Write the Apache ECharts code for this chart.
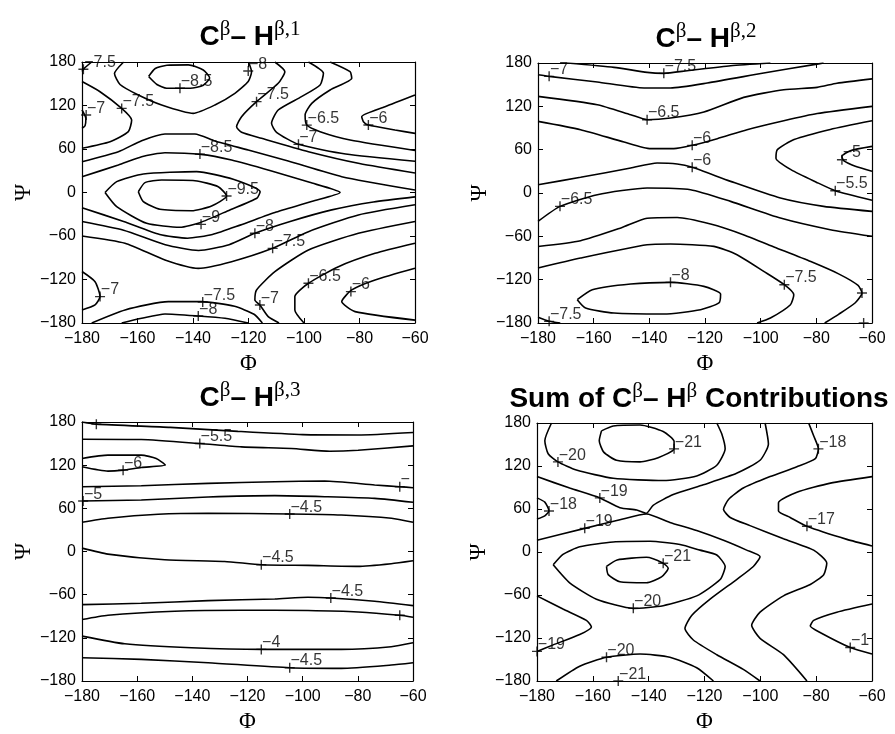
<!DOCTYPE html>
<html>
<head>
<meta charset="utf-8">
<script src="https://cdn.jsdelivr.net/npm/echarts@6/dist/echarts.min.js"></script>
<style>
  html, body { margin: 0; background: #fff; }
  #chart { width: 895px; height: 734px; }
</style>
</head>
<body>
<div id="chart"></div>
<script>
// tick values shared by all four panels
const phiTicks = { min: -180, max: -60, step: 20 };
const psiTicks = { min: -180, max: 180, step: 60 };

// contour lines: [level, [[phi, psi], ...]]
const p1Lines = [
  [-8.5, [[-156,160],[-153.6,171],[-149.4,175.5],[-141.7,176],[-136.3,169],[-134,158],[-136.3,148],[-141,143.7],[-149.5,143.7],[-153,149],[-156,160]]],
  [-8, [[-165,180],[-168.3,164],[-166.3,149],[-159.7,134.5],[-151.3,120.7],[-139.9,109.2],[-132.1,120.7],[-124.9,136.8],[-120.1,153],[-118.9,166.7],[-120,180]]],
  [-7.5, [[-180,167],[-179,172],[-176.5,180]]],
  [-7.5, [[-180,153],[-173.5,139],[-165.7,116],[-162.1,100],[-163.3,84],[-169.9,70],[-180,61]]],
  [-7, [[-180,114],[-178.6,102],[-178.9,92],[-180,88.5]]],
  [-8, [[-180,42.5],[-166.9,56.3],[-158.5,71.5],[-150.1,80.7],[-139.3,80.7],[-132.1,71],[-120.1,58.6],[-105.7,43.4],[-86.4,21.8],[-60,3.4]]],
  [-8.5, [[-180,21.8],[-166.9,37.9],[-158.5,49.4],[-150.1,54.9],[-137.1,52.6],[-126.1,44.8],[-112,30],[-98,14],[-87,0],[-97,-12],[-110,-27],[-123,-45],[-133,-58],[-142,-63],[-152,-58],[-165,-40],[-180,-21]]],
  [-9.5, [[-159.7,1],[-157.3,13.6],[-151.3,17.2],[-139.3,16.3],[-130.9,8],[-127.9,-4.8],[-133.3,-18.6],[-140.5,-25.1],[-151.9,-23.2],[-157.9,-12.7],[-159.7,1]]],
  [-9, [[-171.7,0],[-167.5,15],[-157.9,25.6],[-138.7,28.8],[-125.5,18.2],[-115.8,1.2],[-117,-8],[-126.7,-24],[-137.5,-41.6],[-144.7,-48],[-156.7,-42.5],[-167.5,-19.5],[-171.7,0]]],
  [-8, [[-180,-40],[-165,-52],[-150,-72],[-138,-80],[-127,-72],[-117.7,-56.3],[-105,-40],[-90,-24],[-75,-13],[-60,-6]]],
  [-7.5, [[-180,-60],[-164.5,-70],[-150.1,-93],[-138.1,-104.6],[-126.1,-95.4],[-111.3,-77],[-98.4,-54],[-80.4,-31],[-60,-17]]],
  [-7, [[-180,-109],[-175.3,-123],[-173.5,-143.6],[-175.3,-155],[-180,-162]]],
  [-7.5, [[-176.5,-180],[-164.5,-162],[-148.9,-150.5],[-136.9,-150.5],[-125,-157],[-118,-168],[-115,-180]]],
  [-8, [[-165.7,-180],[-158.5,-173.5],[-150.1,-167.5],[-138.1,-170.3],[-128.5,-173.5],[-120.1,-180]]],
  [-7.5, [[-110.5,180],[-106.9,166.7],[-109.3,150.6],[-117.1,125.3],[-122.5,104.6],[-124.3,90.8],[-122.5,83],[-115.3,74.7],[-98.4,56.3],[-80,40],[-60,27]]],
  [-7, [[-98.4,180],[-93,164.4],[-94.2,148.3],[-100.9,132.2],[-109.3,113.8],[-111.7,95.4],[-109.9,83],[-102,66.4],[-85,53],[-60,43]]],
  [-6.5, [[-90.6,180],[-83.4,166.6],[-82.8,157.5],[-90.6,141.4],[-97.2,123],[-99.6,107],[-99,93],[-94.2,83.9],[-83.4,72.4],[-60,58]]],
  [-6, [[-60,134.5],[-70.8,118.4],[-79.2,104.6],[-78.6,97.7],[-76.8,93.1],[-67.2,86.2],[-60,81.6]]],
  [-7, [[-60,-40],[-80.4,-56.3],[-98.4,-79.3],[-110.5,-109.2],[-117.1,-134.4],[-117.7,-148.2],[-115.9,-155.1],[-112.9,-171.2],[-109,-180]]],
  [-6.5, [[-60,-70],[-74.4,-83.9],[-87.6,-102.3],[-98.4,-125.2],[-103.3,-143.6],[-103.3,-162],[-100,-180]]],
  [-6, [[-60,-104.5],[-74.4,-120.6],[-82.8,-134.4],[-86.4,-150.5],[-81.6,-164.3],[-60,-176]]]
];
const p1Labels = [
  [-144.7,143.7,'\u22128.5'], [-120.1,167.6,'\u22128'], [-179.5,170,'\u22127.5'], [-165.7,116,'\u22127.5'],
  [-178.5,107,'\u22127'], [-117.1,125.3,'\u22127.5'], [-102,66.4,'\u22127'], [-99,93,'\u22126.5'],
  [-76.8,93.1,'\u22126'], [-137.5,53,'\u22128.5'], [-127.9,-4.8,'\u22129.5'], [-137.1,-43.9,'\u22129'],
  [-117.7,-56.3,'\u22128'], [-111.3,-77,'\u22127.5'], [-98.4,-125.2,'\u22126.5'], [-83.1,-136.7,'\u22126'],
  [-173.5,-143.6,'\u22127'], [-115.9,-155.1,'\u22127'], [-136.5,-151,'\u22127.5'], [-138.1,-170.3,'\u22128']
];

const p2Lines = [
  [-7.5, [[-169.5,180],[-152.7,174],[-140.8,167],[-134.8,165.7],[-126.4,169.3],[-110.8,176.3],[-96.5,180]]],
  [-7, [[-180,163.8],[-176,161.5],[-158.7,153.7],[-141.9,145.4],[-132.4,145.4],[-119.2,152.3],[-98.9,166.1],[-80.9,177.7],[-77.4,180]]],
  [-6.5, [[-180,133.8],[-158.7,122.3],[-146.7,108.4],[-140.8,101.5],[-132.4,103.8],[-120.4,112.1],[-106.1,132.4],[-91.7,143],[-79.7,146.3],[-72.6,152],[-60,158]]],
  [-6, [[-180,99.2],[-164.7,87.7],[-149.1,70.6],[-139.5,61.4],[-131.2,61.4],[-124.6,66],[-115.6,75.2],[-104.9,87.7],[-91.7,100.1],[-79.7,110],[-60,120]]],
  [-5.5, [[-60,100],[-75,88],[-88,74],[-94,60],[-94.5,48],[-89,32],[-80,15],[-73.2,3.2],[-60,-10]]],
  [-5, [[-60,64.6],[-67.8,58.6],[-70.8,50.7],[-70.2,44.7],[-66,36.9],[-60,30]]],
  [-6, [[-180,11.5],[-164.7,21.7],[-146.7,34.6],[-137.2,41.5],[-130,40.1],[-124.6,35.5],[-110.8,16.1],[-92.9,-7],[-77.4,-18.5],[-60,-25.4]]],
  [-6.5, [[-180,-39.3],[-172.1,-18.5],[-158.7,-2.3],[-140.8,6.9],[-125.2,4.6],[-110.8,-11.6],[-92.9,-34.7],[-75,-50.8],[-60,-60]]],
  [-7, [[-180,-74],[-164.7,-66],[-150,-48],[-140.8,-35],[-130,-34],[-118,-43],[-106,-58],[-95,-75],[-82,-95],[-72,-112],[-65,-128],[-63.6,-138.5],[-66,-152],[-72,-168],[-77,-180]]],
  [-7.5, [[-180,-103.9],[-164.7,-90],[-140.8,-71.6],[-132.4,-70.7],[-116.8,-73.9],[-108.5,-85.4],[-98.9,-108.5],[-91.5,-127],[-88.1,-140.8],[-89.3,-154.7],[-96.5,-173.1],[-101.3,-180]]],
  [-7.5, [[-180,-172],[-176,-177.7],[-172,-180]]],
  [-8, [[-165.9,-147.7],[-160.5,-133.9],[-146.7,-126],[-132.4,-123.7],[-120.4,-129.3],[-114.4,-139.9],[-115,-152.3],[-121.6,-161.6],[-134.8,-167.6],[-152.7,-166.2],[-162.9,-159.3],[-165.9,-147.7]]]
];
const p2Labels = [
  [-176,161.5,'\u22127'], [-134.8,165.7,'\u22127.5'], [-140.8,101.5,'\u22126.5'], [-124.6,66,'\u22126'],
  [-124.6,35.5,'\u22126'], [-70.8,46.1,'\u22125'], [-73.2,3.2,'\u22125.5'], [-172.1,-18.5,'\u22126.5'],
  [-132.4,-123.7,'\u22128'], [-91.5,-127,'\u22127.5'], [-176,-177.7,'\u22127.5'], [-63.6,-138.5,''], [-63,-180,'']
];

const p3Lines = [
  [-6, [[-180,180],[-174.8,177],[-148,172.5],[-123.5,167],[-100,162.5],[-80,162],[-60,165.5]]],
  [-5.5, [[-180,156.1],[-158.5,155.6],[-137.3,150.1],[-122.2,145.4],[-104.1,143.1],[-90.2,139.4],[-79.9,140.8],[-60,146.8]]],
  [-6, [[-180,129.3],[-170.6,133.9],[-158.5,133.9],[-153.1,129.3],[-149.8,120.1],[-158.5,116.8],[-165.1,113.1],[-170.6,111.7],[-180,117.7]]],
  [-5, [[-180,90.1],[-158.5,91.4],[-134.3,94.7],[-110.1,97],[-92,97.9],[-73.9,92.4],[-64.8,90.1],[-60,88.7]]],
  [-5, [[-180,70.2],[-158.5,71.6],[-134.3,75.7],[-110.1,77.6],[-92,76.2],[-73.9,73.9],[-60,68.4]]],
  [-4.5, [[-180,40.7],[-170.6,46.2],[-152.4,51.7],[-134.3,53.1],[-104.7,52.2],[-86,50.8],[-67.8,46.2],[-60,40.7]]],
  [-4.5, [[-180,4.7],[-170.6,-3.6],[-150,-11.5],[-128.3,-13.8],[-115,-18.4],[-98.1,-19.3],[-80,-20.7],[-67.9,-17],[-60,-12.9]]],
  [-4.5, [[-180,-73.8],[-158.5,-72],[-134.3,-68.3],[-110.1,-66],[-98.1,-63.6],[-89.8,-64.6],[-73.9,-69.2],[-60,-75.2]]],
  [-4, [[-180,-94.6],[-170.6,-88.6],[-146.4,-83],[-122.2,-81.6],[-98.1,-82.1],[-79.9,-84],[-64.8,-88.6],[-60,-91.3]]],
  [-4, [[-180,-117.6],[-164.5,-128.3],[-140.3,-133.8],[-115,-136.1],[-86,-136.1],[-67.9,-132.4],[-60,-126.9]]],
  [-4.5, [[-180,-147.7],[-158.5,-150],[-134.3,-154.6],[-104.7,-161.5],[-86,-162.4],[-67.9,-157.8],[-60,-154.6]]]
];
const p3Labels = [
  [-174.8,177,''], [-137.3,150.1,'\u22125.5'], [-165.1,113.1,'\u22126'], [-64.8,90.1,'\u2212'],
  [-179.6,70.2,'\u22125'], [-104.7,52.2,'\u22124.5'], [-115,-18.4,'\u22124.5'], [-89.8,-64.6,'\u22124.5'],
  [-64.8,-88.6,''], [-115,-136.1,'\u22124'], [-104.7,-161.5,'\u22124.5']
];

const p4Lines = [
  [-20, [[-174.8,180],[-177.2,155.3],[-176,137.1],[-172.5,125.7],[-165.9,114.3],[-152.7,102.9],[-134.8,99.7],[-122.8,106.1],[-115.6,121.1],[-112.6,143.9],[-113.8,164.5],[-115.6,180]]],
  [-21, [[-156.9,169],[-152.7,175.8],[-143.1,177.2],[-134.8,168.1],[-130.9,154.4],[-130.9,143.9],[-136.6,131.6],[-143.1,125.7],[-151.5,128],[-156.1,139.4],[-157.7,155.3],[-156.9,169]]],
  [-19, [[-180,105.2],[-168.3,89.2],[-157.5,75.5],[-150.3,61.9],[-144.3,58.7],[-140.8,54.1],[-138.4,65.1],[-131.2,80.1],[-120.4,93.8],[-108.5,109.8],[-100.1,128],[-97.1,150.8],[-98.3,180]]],
  [-19, [[-180,16.3],[-162.9,33],[-150.3,45],[-140.8,53],[-132.4,41.3],[-122.8,29.9],[-113.2,16.3],[-104.9,2.6],[-100.1,-6.5],[-102.5,-20.2],[-108.5,-38.4],[-118,-65.8],[-124.6,-88.6],[-127,-106.8],[-124,-122.8],[-115.6,-143.3],[-106.1,-163.8],[-100.1,-180]]],
  [-18, [[-180,75.5],[-177.2,69.6],[-175.7,57.3],[-177.2,50.5],[-180,45.9]]],
  [-18, [[-82.7,180],[-80.9,162.2],[-79.2,143.9],[-80.3,130.2],[-86.9,118.9],[-96.5,105.2],[-106.1,89.2],[-111.4,73.3],[-113.2,59.6],[-110.8,48.2],[-103.7,36.8],[-91.7,18.5],[-80.9,2.6],[-76.2,-15.6],[-77.3,-31.6],[-82.1,-45.3],[-91.7,-61.2],[-100.1,-84],[-103.1,-102.3],[-100.1,-120.5],[-91.7,-143.3],[-83.3,-180]]],
  [-17, [[-60,105.2],[-74.9,96.1],[-86.9,83.3],[-93.5,68.7],[-93.5,57.3],[-89.3,48.2],[-83.3,35.9],[-69,17.6],[-60,8.5]]],
  [-21, [[-155.1,-20.2],[-151.3,-11.1],[-140.8,-7.4],[-134.8,-15.6],[-133,-22.5],[-135.4,-34.8],[-140.8,-43],[-150.3,-41.6],[-154.5,-31.6],[-155.1,-20.2]]],
  [-20, [[-174.2,-17.9],[-170.7,-3.3],[-164.7,7.2],[-152.7,14],[-139.5,14.9],[-128.8,10.4],[-121.6,2.6],[-115.6,-4.2],[-112.6,-20.2],[-114.4,-38.4],[-122.8,-61.2],[-134.8,-74.9],[-145.5,-78.6],[-158.7,-65.8],[-168.3,-43],[-174.2,-17.9]]],
  [-19, [[-180,-61.2],[-170.7,-79.5],[-162.3,-95.4],[-160.5,-104.5],[-164.7,-115],[-174.2,-129.6],[-180,-138.7]]],
  [-20, [[-173.1,-180],[-164.7,-159.3],[-155.1,-146.9],[-143.1,-142.4],[-132.4,-146.9],[-122.8,-161.5],[-116.8,-180]]],
  [-17, [[-60,-72.6],[-72.6,-84],[-80.9,-95.4],[-82.1,-103.2],[-78.6,-112.3],[-67.8,-133.3],[-60,-142.4]]]
];
const p4Labels = [
  [-172.5,125.7,'\u221220'], [-130.9,143.9,'\u221221'], [-79.2,143.9,'\u221218'], [-157.5,75.5,'\u221219'],
  [-175.7,57.3,'\u221218'], [-162.9,33,'\u221219'], [-83.3,35.9,'\u221217'], [-134.8,-15.6,'\u221221'],
  [-145.5,-78.6,'\u221220'], [-180,-138.7,'\u221219'], [-155.1,-146.9,'\u221220'], [-150.9,-180,'\u221221'],
  [-67.8,-133.3,'\u22121']
];

const panels = [
  { grid: { left: 82, top: 62, width: 333, height: 261 }, title: '{b|C}{s|\u03b2}{b|\u2013 H}{s|\u03b2,1}', tx: 250, ty: 19, lines: p1Lines, labels: p1Labels },
  { grid: { left: 538, top: 63, width: 334, height: 260 }, title: '{b|C}{s|\u03b2}{b|\u2013 H}{s|\u03b2,2}', tx: 706, ty: 21, lines: p2Lines, labels: p2Labels },
  { grid: { left: 82, top: 422, width: 331, height: 260 }, title: '{b|C}{s|\u03b2}{b|\u2013 H}{s|\u03b2,3}', tx: 250, ty: 380, lines: p3Lines, labels: p3Labels },
  { grid: { left: 537, top: 423, width: 335, height: 264 }, title: '{b|Sum of C}{s|\u03b2}{b|\u2013 H}{s|\u03b2}{b| Contributions}', tx: 699, ty: 381, lines: p4Lines, labels: p4Labels }
];

const minus = (v) => String(v).replace('-', '\u2212');
const sans = 'Liberation Sans, Arial, sans-serif';
const serif = 'Liberation Serif, Times New Roman, serif';
const plus = 'path://M0,5L10,5M5,0L5,10';

const axisBase = {
  type: 'value',
  axisLine: { show: true, onZero: false, lineStyle: { color: '#000', width: 1.2 } },
  axisTick: { show: true, inside: true, length: 5, lineStyle: { color: '#000', width: 1 } },
  splitLine: { show: false }
};

const grid = [], xAxis = [], yAxis = [], series = [], title = [];

panels.forEach((p, i) => {
  grid.push(p.grid);
  title.push({
    text: p.title, left: p.tx, top: p.ty, textAlign: 'center', padding: 0,
    textStyle: {
      rich: {
        b: { fontFamily: sans, fontWeight: 'bold', fontSize: 28, lineHeight: 32, color: '#000', verticalAlign: 'bottom' },
        s: { fontFamily: serif, fontWeight: 'normal', fontSize: 21, lineHeight: 21, color: '#000', verticalAlign: 'top' }
      }
    }
  });
  const xr = { min: phiTicks.min, max: phiTicks.max, interval: phiTicks.step };
  const yr = { min: psiTicks.min, max: psiTicks.max, interval: psiTicks.step };
  xAxis.push(Object.assign({}, axisBase, xr, {
    gridIndex: i, position: 'bottom',
    axisLabel: { formatter: minus, color: '#000', fontSize: 16, fontFamily: sans, margin: 8 },
    name: '\u03a6', nameLocation: 'middle', nameGap: 29,
    nameTextStyle: { fontFamily: serif, fontSize: 23, color: '#000' }
  }));
  xAxis.push(Object.assign({}, axisBase, xr, { gridIndex: i, position: 'top', axisLabel: { show: false } }));
  yAxis.push(Object.assign({}, axisBase, yr, {
    gridIndex: i, position: 'left',
    axisLabel: { formatter: minus, color: '#000', fontSize: 16, fontFamily: sans, margin: 6 },
    name: '\u03a8', nameLocation: 'middle', nameGap: 47, nameRotate: 90,
    nameTextStyle: { fontFamily: serif, fontSize: 23, color: '#000' }
  }));
  yAxis.push(Object.assign({}, axisBase, yr, { gridIndex: i, position: 'right', axisLabel: { show: false } }));

  p.lines.forEach(([level, pts]) => {
    series.push({
      type: 'line', name: String(level), xAxisIndex: i * 2, yAxisIndex: i * 2,
      data: pts, showSymbol: false, symbol: 'none', smooth: 0.2, clip: true, silent: true,
      lineStyle: { color: '#000', width: 1.6 }
    });
  });

  series.push({
    type: 'scatter', xAxisIndex: i * 2, yAxisIndex: i * 2, silent: true, clip: false, z: 5,
    symbol: plus, symbolSize: 10,
    itemStyle: { color: 'transparent', borderColor: '#000', borderWidth: 1.4 },
    label: {
      show: true, position: [6.5, 7], align: 'left', verticalAlign: 'bottom',
      fontSize: 16, lineHeight: 16, fontFamily: sans, color: '#000'
    },
    data: p.labels.map(([phi, psi, txt]) => ({
      value: [phi, psi],
      label: txt ? { formatter: txt } : { show: false }
    }))
  });
});

const chart = echarts.init(document.getElementById('chart'));
chart.setOption({
  animation: false,
  backgroundColor: '#fff',
  title, grid, xAxis, yAxis, series
});
</script>
</body>
</html>
